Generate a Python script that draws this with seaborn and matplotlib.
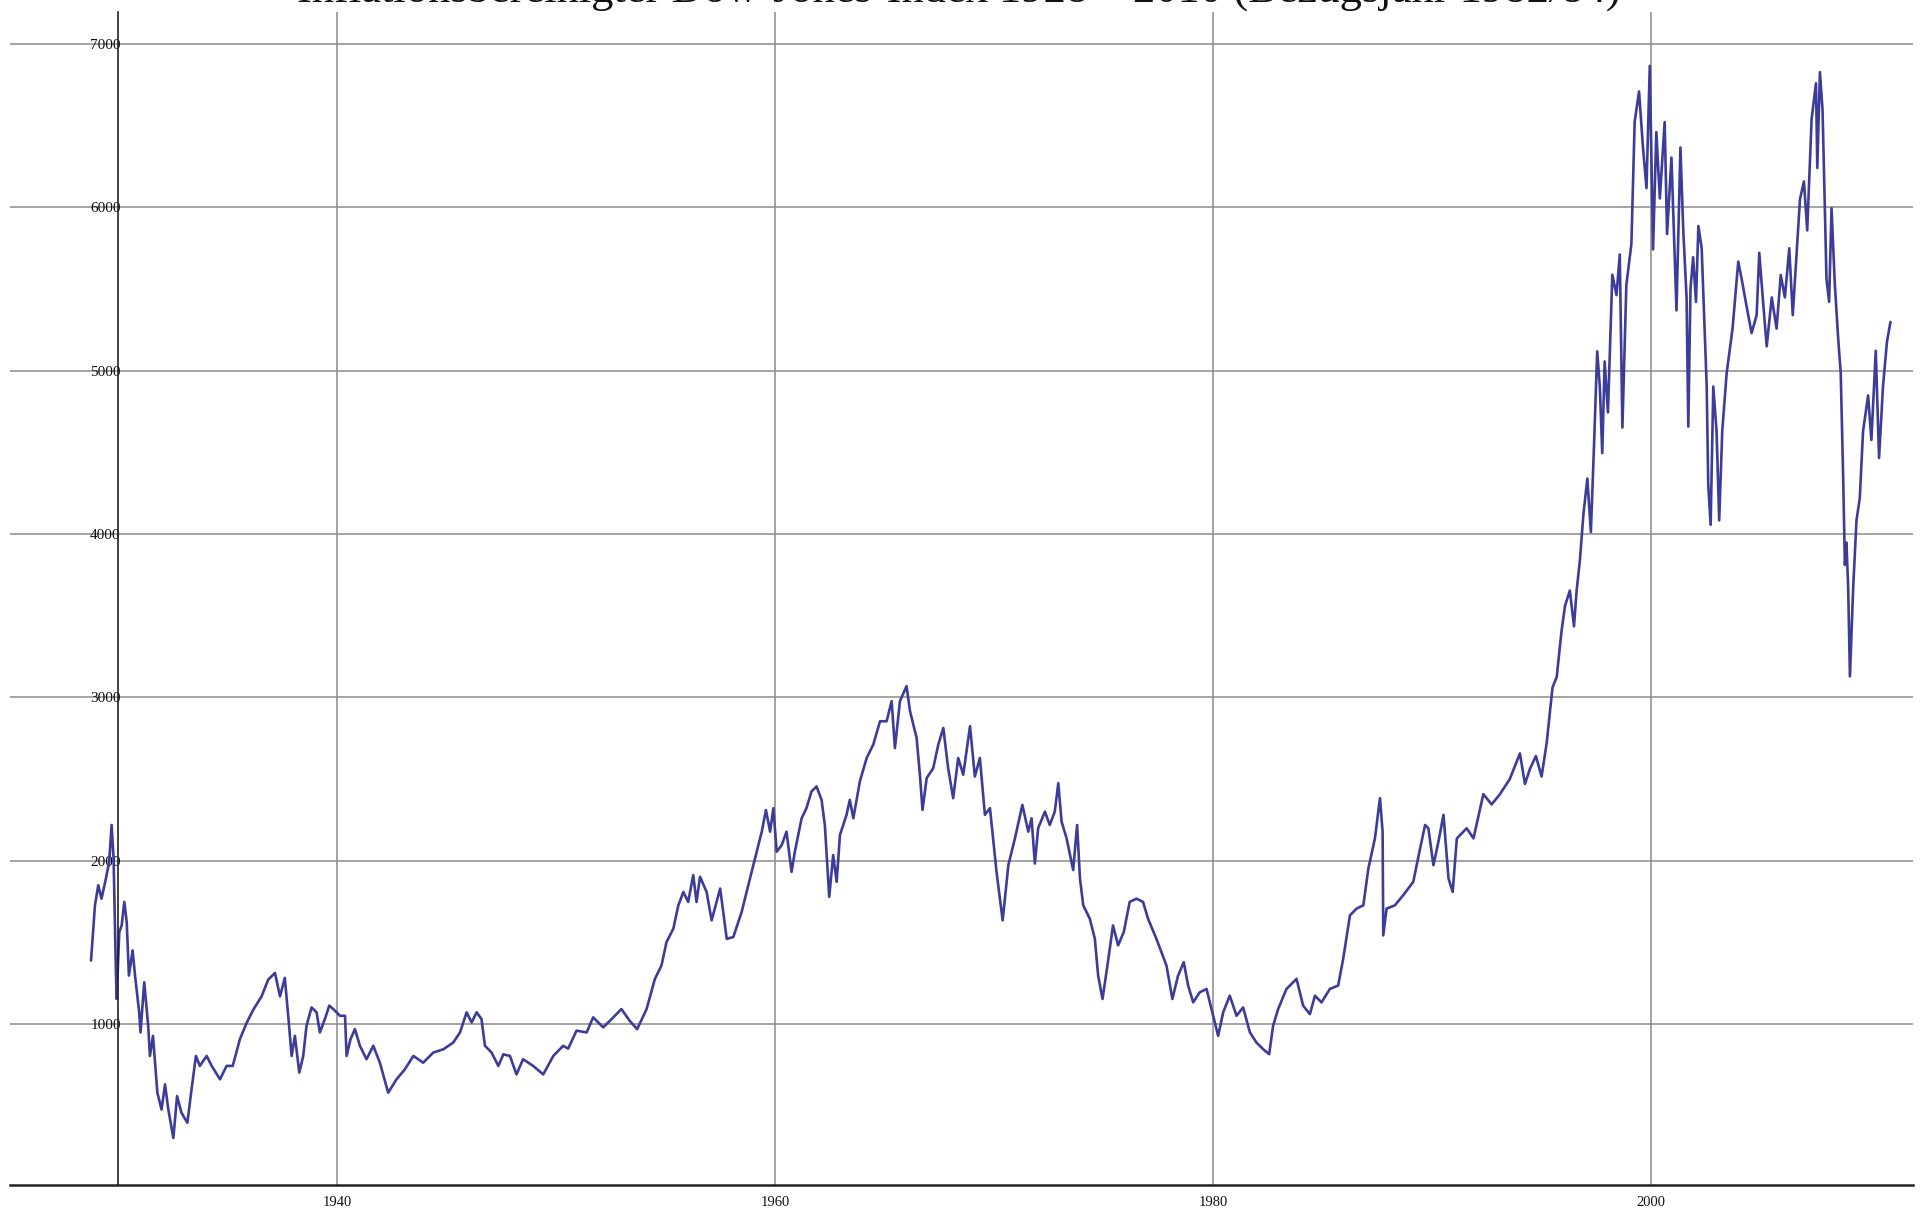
import matplotlib
matplotlib.use("Agg")
import matplotlib.pyplot as plt
import seaborn as sns
import pandas as pd
from matplotlib.ticker import MultipleLocator, FixedLocator

# values (year, inflation-adjusted index)
years_1928_1950 = [1928.77, 1928.95, 1929.10, 1929.25, 1929.45, 1929.60, 1929.71, 1929.80, 1929.90, 1929.94,
                   1930.06, 1930.17, 1930.29, 1930.40, 1930.50, 1930.67, 1930.78, 1930.97, 1931.03, 1931.20,
                   1931.38, 1931.46, 1931.60, 1931.80, 1931.99, 1932.15, 1932.30, 1932.53, 1932.70, 1932.90,
                   1933.17, 1933.36, 1933.56, 1933.74, 1934.05, 1934.28, 1934.66, 1934.96, 1935.24, 1935.57,
                   1935.87, 1936.18, 1936.56, 1936.86, 1937.17, 1937.40, 1937.62, 1937.78, 1937.93, 1938.08,
                   1938.28, 1938.46, 1938.61, 1938.84, 1939.07, 1939.22, 1939.45, 1939.65, 1939.83, 1940.14,
                   1940.37, 1940.44, 1940.62, 1940.82, 1941.05, 1941.35, 1941.66, 1941.96, 1942.34, 1942.72,
                   1943.10, 1943.49, 1943.94, 1944.40, 1944.86, 1945.31, 1945.62, 1945.92, 1946.15, 1946.38,
                   1946.60, 1946.76, 1947.06, 1947.37, 1947.60, 1947.90, 1948.20, 1948.50, 1948.96, 1949.42,
                   1949.88]
values_1928_1950 = [1389, 1727, 1850, 1768, 1891, 1994, 2219, 2014, 1359, 1154,
                    1563, 1604, 1748, 1625, 1297, 1451, 1297, 1072, 949, 1256,
                    990, 805, 928, 580, 477, 631, 477, 303, 559, 457,
                    396, 600, 805, 744, 805, 744, 662, 744, 744, 908,
                    1006, 1088, 1170, 1272, 1313, 1170, 1283, 1043, 805, 928,
                    703, 805, 990, 1102, 1072, 949, 1031, 1113, 1092, 1051,
                    1051, 805, 908, 969, 867, 785, 867, 764, 580, 662,
                    723, 805, 764, 826, 846, 887, 949, 1072, 1010, 1072,
                    1031, 867, 826, 744, 815, 805, 692, 785, 744, 692,
                    805]

years_1950_1970 = [1950.33, 1950.56, 1950.94, 1951.40, 1951.70, 1952.16, 1952.62, 1952.99, 1953.37, 1953.71,
                   1954.14, 1954.52, 1954.82, 1955.05, 1955.36, 1955.59, 1955.82, 1956.04, 1956.27, 1956.42,
                   1956.58, 1956.88, 1957.11, 1957.50, 1957.80, 1958.10, 1958.48, 1958.86, 1959.17, 1959.40,
                   1959.59, 1959.78, 1959.93, 1960.08, 1960.31, 1960.53, 1960.76, 1960.91, 1961.22, 1961.44,
                   1961.67, 1961.90, 1962.13, 1962.28, 1962.48, 1962.66, 1962.82, 1962.97, 1963.27, 1963.42,
                   1963.58, 1963.88, 1964.19, 1964.49, 1964.80, 1965.10, 1965.33, 1965.48, 1965.71, 1966.01,
                   1966.17, 1966.47, 1966.62, 1966.74, 1966.93, 1967.23, 1967.46, 1967.69, 1967.91, 1968.14,
                   1968.37, 1968.60, 1968.91, 1969.13, 1969.36, 1969.59, 1969.82, 1970.12]
values_1950_1970 = [867, 850, 960, 949, 1041, 980, 1041, 1092, 1020, 969,
                    1092, 1277, 1359, 1502, 1584, 1727, 1809, 1748, 1912, 1748,
                    1902, 1809, 1635, 1830, 1522, 1533, 1686, 1891, 2055, 2178,
                    2311, 2178, 2322, 2055, 2096, 2178, 1932, 2055, 2260, 2322,
                    2424, 2455, 2373, 2219, 1779, 2035, 1871, 2158, 2281, 2373,
                    2260, 2486, 2629, 2711, 2854, 2854, 2977, 2690, 2977, 3069,
                    2916, 2752, 2527, 2311, 2506, 2567, 2711, 2813, 2567, 2383,
                    2629, 2527, 2824, 2516, 2629, 2281, 2322, 1932]

years_1970_1990 = [1970.40, 1970.66, 1970.96, 1971.30, 1971.57, 1971.72, 1971.87, 1972.02, 1972.33, 1972.55,
                   1972.78, 1972.94, 1973.09, 1973.32, 1973.62, 1973.80, 1973.93, 1974.08, 1974.38, 1974.61,
                   1974.76, 1974.96, 1975.14, 1975.44, 1975.67, 1975.93, 1976.20, 1976.51, 1976.81, 1977.04,
                   1977.42, 1977.88, 1978.15, 1978.41, 1978.67, 1978.87, 1979.10, 1979.40, 1979.71, 1980.01,
                   1980.24, 1980.47, 1980.77, 1981.08, 1981.38, 1981.69, 1981.99, 1982.30, 1982.57, 1982.75,
                   1982.98, 1983.36, 1983.82, 1984.12, 1984.43, 1984.66, 1984.96, 1985.34, 1985.72, 1985.95,
                   1986.26, 1986.56, 1986.87, 1987.10, 1987.40, 1987.63, 1987.75, 1987.78, 1987.93, 1988.31,
                   1988.69, 1989.15, 1989.43, 1989.69, 1989.84]
values_1970_1990 = [1635, 1973, 2137, 2342, 2178, 2260, 1983, 2199, 2301, 2219,
                    2301, 2475, 2240, 2137, 1943, 2219, 1891, 1727, 1645, 1522,
                    1297, 1154, 1318, 1604, 1482, 1563, 1748, 1768, 1748, 1645,
                    1522, 1359, 1154, 1297, 1379, 1236, 1133, 1195, 1215, 1051,
                    928, 1072, 1174, 1051, 1102, 949, 887, 846, 816, 990,
                    1092, 1215, 1277, 1113, 1061, 1174, 1133, 1215, 1236, 1400,
                    1666, 1707, 1727, 1953, 2137, 2383, 2178, 1543, 1707, 1727,
                    1789, 1871, 2055, 2219, 2199]

years_1990_2001 = [1990.07, 1990.30, 1990.53, 1990.76, 1990.95, 1991.14, 1991.59, 1991.90, 1992.35, 1992.73,
                   1993.11, 1993.56, 1994.02, 1994.25, 1994.48, 1994.75, 1995.01, 1995.24, 1995.51, 1995.70,
                   1995.92, 1996.08, 1996.30, 1996.49, 1996.61, 1996.76, 1996.92, 1997.10, 1997.26, 1997.40,
                   1997.55, 1997.67, 1997.78, 1997.89, 1998.04, 1998.24, 1998.43, 1998.58, 1998.70, 1998.88,
                   1999.11, 1999.26, 1999.46, 1999.64, 1999.80, 1999.95, 2000.10, 2000.25, 2000.41, 2000.63,
                   2000.74, 2000.94, 2001.17, 2001.35]
values_1990_2001 = [1973, 2117, 2281, 1891, 1809, 2137, 2199, 2137, 2408, 2345,
                    2408, 2501, 2657, 2470, 2563, 2641, 2516, 2719, 3062, 3124,
                    3405, 3561, 3654, 3436, 3654, 3841, 4121, 4340, 4012, 4527,
                    5119, 4901, 4496, 5057, 4745, 5588, 5463, 5712, 4652, 5525,
                    5775, 6523, 6710, 6367, 6118, 6866, 5743, 6461, 6055, 6523,
                    5837, 6305, 5369, 6367]

years_2001_2011 = [2001.48, 2001.63, 2001.71, 2001.81, 2001.93, 2002.06, 2002.17, 2002.32, 2002.40, 2002.55,
                   2002.62, 2002.73, 2002.85, 2003.00, 2003.12, 2003.26, 2003.46, 2003.73, 2003.99, 2004.15,
                   2004.37, 2004.60, 2004.83, 2004.95, 2005.14, 2005.29, 2005.52, 2005.74, 2005.93, 2006.12,
                   2006.32, 2006.48, 2006.66, 2006.81, 2006.99, 2007.14, 2007.34, 2007.54, 2007.60, 2007.72,
                   2007.84, 2007.91, 2008.02, 2008.14, 2008.25, 2008.40, 2008.55, 2008.67, 2008.78, 2008.86,
                   2008.93, 2009.01, 2009.09, 2009.24, 2009.39, 2009.54, 2009.69, 2009.92, 2010.07, 2010.27,
                   2010.42, 2010.60, 2010.78, 2010.94]
values_2001_2011 = [5859, 5449, 4658, 5504, 5695, 5422, 5886, 5750, 5449, 4903,
                    4303, 4057, 4903, 4630, 4084, 4630, 4985, 5258, 5668, 5559,
                    5395, 5231, 5340, 5722, 5395, 5149, 5449, 5258, 5586, 5449,
                    5750, 5340, 5722, 6050, 6159, 5859, 6541, 6760, 6241, 6828,
                    6596, 6186, 5559, 5422, 5995, 5531, 5204, 4985, 4357, 3811,
                    3948, 3675, 3129, 3675, 4084, 4221, 4630, 4849, 4576, 5122,
                    4466, 4903, 5176, 5299]

title_text = "Inflationsbereinigter Dow-Jones-Index 1928 \u2013 2010 (Bezugsjahr 1982/84)"
x_major = [1940, 1960, 1980, 2000]
y_major = [1000, 2000, 3000, 4000, 5000, 6000, 7000]

df = pd.DataFrame({
    "year": years_1928_1950 + years_1950_1970 + years_1970_1990 + years_1990_2001 + years_2001_2011,
    "index": values_1928_1950 + values_1950_1970 + values_1970_1990 + values_1990_2001 + values_2001_2011,
})

sns.set_style("white")
plt.rcParams['font.family'] = ['Liberation Serif', 'DejaVu Serif']

fig = plt.figure(figsize=(19.22, 12.16), dpi=100)
ax = fig.add_axes([0.0052, 0.0255, 0.990, 0.9646])

sns.lineplot(data=df, x="year", y="index", ax=ax, color="#3d3d99",
             linewidth=1.9, estimator=None, sort=False)

ax.set_xlim(1925.07, 2011.96)
ax.set_ylim(15, 7196)

ax.xaxis.set_major_locator(FixedLocator(x_major))
ax.xaxis.set_minor_locator(MultipleLocator(5))
ax.yaxis.set_major_locator(FixedLocator(y_major))
ax.yaxis.set_minor_locator(MultipleLocator(200))

ax.grid(True, which="major", color="#8c8c8c", linewidth=1.1)
ax.set_axisbelow(True)

for side in ["top", "right"]:
    ax.spines[side].set_visible(False)
ax.spines["left"].set_position(("data", 1930))
ax.spines["left"].set_color("#222222")
ax.spines["left"].set_linewidth(1.2)
ax.spines["bottom"].set_color("#222222")
ax.spines["bottom"].set_linewidth(1.8)

ax.tick_params(axis="both", which="major", direction="in", length=8, width=1, colors="#222222",
               labelcolor="#111111")
ax.tick_params(axis="x", which="major", pad=8, labelsize=10.5)
ax.tick_params(axis="y", which="major", pad=-2, labelsize=11)
ax.tick_params(axis="both", which="minor", direction="in", length=5, width=1, colors="#222222")
for lbl in ax.get_yticklabels():
    lbl.set_horizontalalignment("right")

ax.set_xlabel("")
ax.set_ylabel("")

fig.text(0.499, 0.9988, title_text, ha="center", va="baseline", fontsize=32, color="#111111")

fig.savefig("out.png", dpi=100)
